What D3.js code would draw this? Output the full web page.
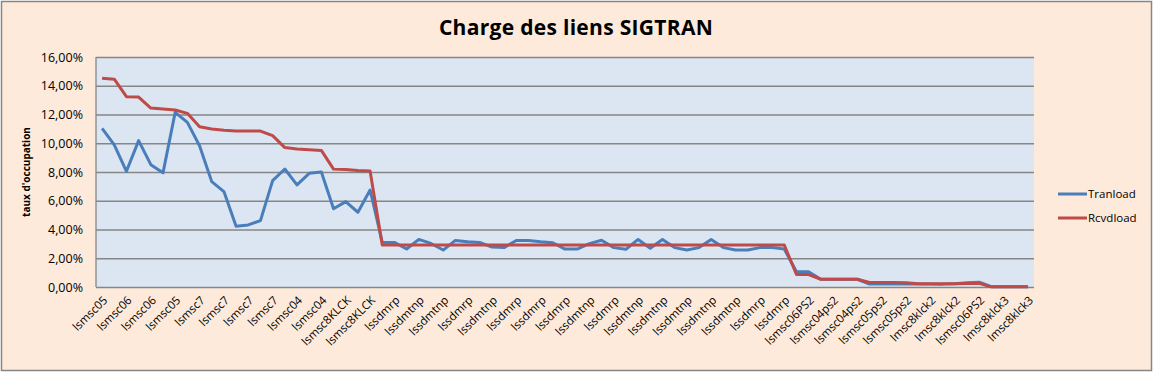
<!DOCTYPE html>
<html>
<head>
<meta charset="utf-8">
<script src="https://cdn.jsdelivr.net/npm/d3@7"></script>
<style>
  body { margin: 0; background: #fff; }
  text { font-family: "Open Sans", "Liberation Sans", sans-serif; fill: #000; }
</style>
</head>
<body>
<div id="chart"></div>
<script>
// categories (77 links, only every other one is labelled on the axis)
const categories = [
  "lsmsc05", "lsmsc05", "lsmsc06", "lsmsc06", "lsmsc06", "lsmsc06", "lsmsc05", "lsmsc05",
  "lsmsc7", "lsmsc7", "lsmsc7", "lsmsc7", "lsmsc7", "lsmsc7", "lsmsc7", "lsmsc7",
  "lsmsc04", "lsmsc04", "lsmsc04", "lsmsc04", "lsmsc8KLCK", "lsmsc8KLCK", "lsmsc8KLCK", "lsmsc8KLCK",
  "lssdmrp", "lssdmrp", "lssdmtnp", "lssdmtnp", "lssdmtnp", "lssdmtnp", "lssdmrp", "lssdmrp",
  "lssdmtnp", "lssdmtnp", "lssdmrp", "lssdmrp", "lssdmrp", "lssdmrp", "lssdmrp", "lssdmrp",
  "lssdmtnp", "lssdmtnp", "lssdmrp", "lssdmrp", "lssdmtnp", "lssdmtnp", "lssdmtnp", "lssdmtnp",
  "lssdmtnp", "lssdmtnp", "lssdmtnp", "lssdmtnp", "lssdmtnp", "lssdmtnp", "lssdmrp", "lssdmrp",
  "lssdmrp", "lssdmrp", "lsmsc06PS2", "lsmsc06PS2", "lsmsc04ps2", "lsmsc04ps2", "lsmsc04ps2", "lsmsc04ps2",
  "lsmsc05ps2", "lsmsc05ps2", "lsmsc05ps2", "lsmsc05ps2", "lmsc8klck2", "lmsc8klck2", "lmsc8klck2", "lmsc8klck2",
  "lsmsc06PS2", "lsmsc06PS2", "lmsc8klck3", "lmsc8klck3", "lmsc8klck3"
];

// Tranload (%)
const tranload = [
  11.04, 9.88, 8.05, 10.18, 8.51, 7.94, 12.15, 11.45, 9.83, 7.33,
  6.64, 4.23, 4.32, 4.62, 7.40, 8.21, 7.10, 7.91, 8.00, 5.44,
  5.94, 5.20, 6.75, 3.10, 3.10, 2.64, 3.31, 3.03, 2.57, 3.24,
  3.15, 3.10, 2.78, 2.74, 3.24, 3.24, 3.15, 3.08, 2.64, 2.64,
  3.02, 3.25, 2.74, 2.62, 3.31, 2.69, 3.31, 2.74, 2.57, 2.74,
  3.31, 2.74, 2.57, 2.57, 2.74, 2.74, 2.64, 1.06, 1.06, 0.54,
  0.54, 0.54, 0.54, 0.21, 0.21, 0.21, 0.22, 0.21, 0.20, 0.20,
  0.22, 0.30, 0.33, 0.02, 0.01, 0.01, 0.01
];

// Rcvdload (%)
const rcvdload = [
  14.53, 14.46, 13.24, 13.21, 12.45, 12.38, 12.31, 12.08, 11.15, 10.99,
  10.90, 10.85, 10.85, 10.85, 10.53, 9.70, 9.60, 9.55, 9.50, 8.20,
  8.18, 8.10, 8.07, 2.92, 2.92, 2.92, 2.92, 2.92, 2.92, 2.92,
  2.92, 2.92, 2.92, 2.92, 2.92, 2.92, 2.92, 2.92, 2.92, 2.92,
  2.92, 2.92, 2.92, 2.92, 2.92, 2.92, 2.92, 2.92, 2.92, 2.92,
  2.92, 2.92, 2.92, 2.92, 2.92, 2.92, 2.92, 0.87, 0.87, 0.54,
  0.54, 0.54, 0.54, 0.31, 0.31, 0.31, 0.30, 0.22, 0.22, 0.22,
  0.22, 0.24, 0.26, 0.01, 0.01, 0.01, 0.01
];

const yTicks = [0, 2, 4, 6, 8, 10, 12, 14, 16];

const seriesNames = ["Tranload", "Rcvdload"];
const seriesColors = ["#4A7EBB", "#BE4B48"];

const W = 1153, H = 372;
const plot = { left: 96, right: 1034, top: 57, bottom: 287 };

const svg = d3.select("#chart").append("svg")
  .attr("width", W)
  .attr("height", H);

// fond du graphique
svg.append("rect")
  .attr("x", 1.5).attr("y", 1.5)
  .attr("width", W - 3).attr("height", H - 3)
  .attr("fill", "#FDEADA")
  .attr("stroke", "#868686")
  .attr("stroke-width", 1.5);

// titre
svg.append("text")
  .attr("x", 576)
  .attr("y", 35)
  .attr("text-anchor", "middle")
  .style("font-size", "21px")
  .style("font-weight", "bold")
  .style("letter-spacing", "0.3px")
  .text("Charge des liens SIGTRAN");

const x = d3.scaleBand()
  .domain(d3.range(categories.length))
  .range([plot.left, plot.right])
  .paddingInner(0).paddingOuter(0);

const y = d3.scaleLinear()
  .domain([0, 16])
  .range([plot.bottom, plot.top]);

// zone de tracé
svg.append("rect")
  .attr("x", plot.left).attr("y", plot.top)
  .attr("width", plot.right - plot.left)
  .attr("height", plot.bottom - plot.top)
  .attr("fill", "#DCE6F2");

// grille + axe Y
const yAxis = svg.append("g")
  .attr("transform", `translate(${plot.left},0)`)
  .call(d3.axisLeft(y)
    .tickValues(yTicks)
    .tickSize(-(plot.right - plot.left))
    .tickPadding(13)
    .tickFormat(d => d.toFixed(2).replace(".", ",") + "%"));
yAxis.select(".domain").remove();
yAxis.selectAll(".tick line")
  .attr("stroke", "#868686")
  .attr("stroke-width", 1.3);
yAxis.selectAll(".tick text")
  .style("font-size", "12.5px")
  .attr("fill", "#000");

// axe vertical
svg.append("line")
  .attr("x1", plot.left).attr("x2", plot.left)
  .attr("y1", plot.top).attr("y2", plot.bottom)
  .attr("stroke", "#868686")
  .attr("stroke-width", 1.3);

// titre axe Y
svg.append("text")
  .attr("transform", `translate(30,${(plot.top + plot.bottom) / 2}) rotate(-90)`)
  .attr("text-anchor", "middle")
  .style("font-size", "10px")
  .style("font-weight", "bold")
  .text("taux d'occupation");

// axe X : une étiquette sur deux
const xAxis = svg.append("g")
  .attr("transform", `translate(0,${plot.bottom})`)
  .call(d3.axisBottom(x)
    .tickValues(d3.range(0, categories.length, 2))
    .tickSize(0)
    .tickFormat(i => categories[i]));
xAxis.select(".domain").remove();
xAxis.selectAll(".tick text")
  .style("font-size", "11.5px")
  .attr("text-anchor", "end")
  .attr("x", 0).attr("y", 0).attr("dy", 0)
  .attr("transform", "translate(6,14) rotate(-45)");

// courbes
const line = d3.line()
  .x((d, i) => x(i) + x.bandwidth() / 2)
  .y(d => y(d));

[tranload, rcvdload].forEach((s, k) => {
  svg.append("path")
    .datum(s)
    .attr("d", line)
    .attr("fill", "none")
    .attr("stroke", seriesColors[k])
    .attr("stroke-width", 3)
    .attr("stroke-linejoin", "round");
});

// légende
const legend = svg.selectAll(".legend")
  .data(seriesNames)
  .enter().append("g")
  .attr("class", "legend")
  .attr("transform", (d, i) => `translate(1058,${194 + i * 24})`);

legend.append("line")
  .attr("x1", 0).attr("x2", 29)
  .attr("stroke", (d, i) => seriesColors[i])
  .attr("stroke-width", 3);

legend.append("text")
  .attr("x", 30)
  .attr("dy", "0.35em")
  .style("font-size", "11.5px")
  .text(d => d);
</script>
</body>
</html>
